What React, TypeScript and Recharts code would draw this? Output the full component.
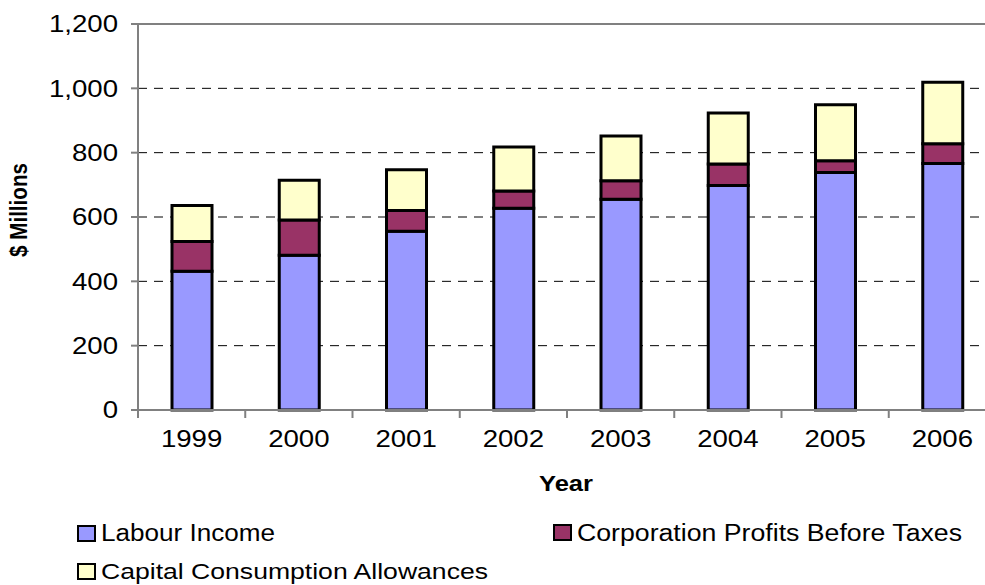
import React from 'react';
import { BarChart, Bar, XAxis, YAxis, CartesianGrid, ReferenceLine } from 'recharts';

const years = ['1999', '2000', '2001', '2002', '2003', '2004', '2005', '2006'];
const labourIncome = [431, 481, 556, 627, 655, 698, 738, 766];
const corporationProfits = [93, 110, 64, 54, 58, 67, 37, 62];
const capitalConsumption = [112, 123, 127, 137, 139, 158, 174, 191];
const yTicks = [0, 200, 400, 600, 800, 1000, 1200];
const seriesNames = ['Labour Income', 'Corporation Profits Before Taxes', 'Capital Consumption Allowances'];

const data = years.map((year, i) => ({
  year,
  labour: labourIncome[i],
  corp: corporationProfits[i],
  capital: capitalConsumption[i],
}));

const FONT = '"Liberation Sans", Arial, sans-serif';
const CHART_W = 1010;
const CHART_H = 585;
const MARGIN = { top: 24, right: 14, bottom: 135, left: 0 };
const Y_AXIS_W = 138;
const PLOT_W = CHART_W - MARGIN.right - MARGIN.left - Y_AXIS_W;
const BAND = PLOT_W / years.length;
const AXIS_COLOR = '#808080';
const SX = 1.15;

const fmt = (v: number) => v.toLocaleString('en-US');

const YTick = (props: any) => {
  const { x, y, payload } = props;
  return (
    <text
      transform={`translate(${x},${y}) scale(${SX},1)`}
      textAnchor="end"
      dy="0.35em"
      fontSize={24}
      fontFamily={FONT}
      fill="#000"
    >
      {fmt(payload.value)}
    </text>
  );
};

const XTick = (props: any) => {
  const { x, y, payload, index } = props;
  const half = BAND / 2;
  return (
    <g>
      <line x1={x - half} x2={x - half} y1={y} y2={y + 8} stroke={AXIS_COLOR} strokeWidth={2} />
      {index === years.length - 1 && (
        <line x1={x + half} x2={x + half} y1={y} y2={y + 8} stroke={AXIS_COLOR} strokeWidth={2} />
      )}
      <text
        transform={`translate(${x},${y + 37}) scale(${SX},1)`}
        textAnchor="middle"
        fontSize={24}
        fontFamily={FONT}
        fill="#000"
      >
        {payload.value}
      </text>
    </g>
  );
};

export default function App() {
  const colors = ['#9999FF', '#993366', '#FFFFCC'];
  return (
    <div style={{ position: 'absolute', left: 0, top: 0, width: 985, height: 585, overflow: 'hidden', background: '#fff' }}>
      <BarChart width={CHART_W} height={CHART_H} data={data} margin={MARGIN}>
        <CartesianGrid vertical={false} stroke="#000" strokeDasharray="9 7" strokeWidth={1} />
        <XAxis
          dataKey="year"
          height={40}
          tickLine={false}
          tickSize={0}
          tickMargin={0}
          axisLine={{ stroke: AXIS_COLOR, strokeWidth: 2 }}
          tick={<XTick />}
          interval={0}
        />
        <YAxis
          width={Y_AXIS_W}
          domain={[0, 1200]}
          ticks={yTicks}
          tickSize={7}
          tickMargin={13}
          tickLine={{ stroke: AXIS_COLOR, strokeWidth: 2 }}
          axisLine={{ stroke: AXIS_COLOR, strokeWidth: 2 }}
          tick={<YTick />}
          interval={0}
        />
        <ReferenceLine y={1200} stroke={AXIS_COLOR} strokeWidth={2} />
        <Bar dataKey="labour" stackId="a" fill={colors[0]} stroke="#000" strokeWidth={3} barSize={40} isAnimationActive={false} />
        <Bar dataKey="corp" stackId="a" fill={colors[1]} stroke="#000" strokeWidth={3} barSize={40} isAnimationActive={false} />
        <Bar dataKey="capital" stackId="a" fill={colors[2]} stroke="#000" strokeWidth={3} barSize={40} isAnimationActive={false} />
      </BarChart>
      <svg
        width={985}
        height={585}
        style={{ position: 'absolute', left: 0, top: 0, pointerEvents: 'none' }}
      >
        <text
          transform="translate(19,210) rotate(-90) scale(1,1.15)"
          textAnchor="middle"
          dy="0.35em"
          fontSize={20}
          fontWeight="bold"
          fontFamily={FONT}
          fill="#000"
          textLength={94}
          lengthAdjust="spacingAndGlyphs"
        >
          $ Millions
        </text>
        <text
          x={566}
          y={491}
          textAnchor="middle"
          fontSize={22}
          fontWeight="bold"
          fontFamily={FONT}
          fill="#000"
          textLength={54}
          lengthAdjust="spacingAndGlyphs"
        >
          Year
        </text>
        <rect x={78} y={526} width={17} height={15} fill={colors[0]} stroke="#000" strokeWidth={2} />
        <text x={101} y={541} fontSize={23} fontFamily={FONT} fill="#000" textLength={174} lengthAdjust="spacingAndGlyphs">
          {seriesNames[0]}
        </text>
        <rect x={554} y={525} width={17} height={15} fill={colors[1]} stroke="#000" strokeWidth={2} />
        <text x={577} y={541} fontSize={23} fontFamily={FONT} fill="#000" textLength={385} lengthAdjust="spacingAndGlyphs">
          {seriesNames[1]}
        </text>
        <rect x={78} y={564} width={17} height={15} fill={colors[2]} stroke="#000" strokeWidth={2} />
        <text x={101} y={579} fontSize={22} fontFamily={FONT} fill="#000" textLength={387} lengthAdjust="spacingAndGlyphs">
          {seriesNames[2]}
        </text>
      </svg>
    </div>
  );
}
